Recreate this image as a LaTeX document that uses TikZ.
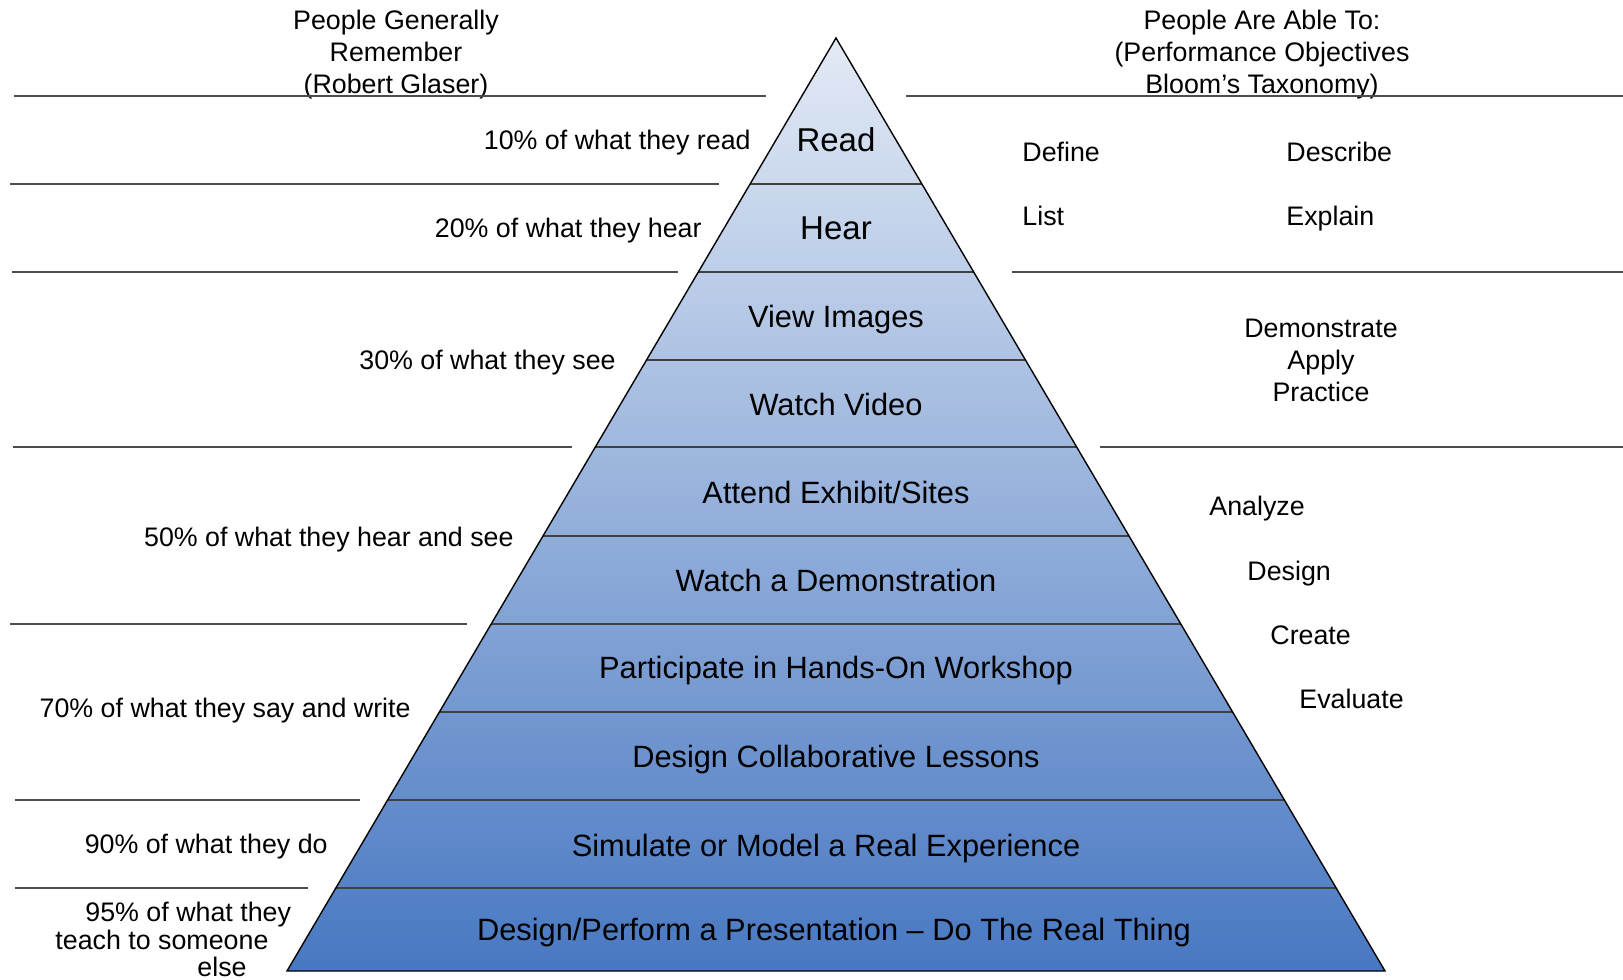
\documentclass[tikz,border=0pt]{standalone}
\usepackage{fontspec}
\setmainfont{Liberation Sans}
\definecolor{pyrtop}{HTML}{E3EAF5}
\definecolor{pyrbot}{HTML}{4878C2}
\begin{document}
\begin{tikzpicture}
    [
        x=0.5pt,
        y=-0.5pt,
        band/.style={
                inner sep=0pt,
                text height=11pt,
                text depth=0pt,
                font=\fontsize{15.4}{18}\selectfont,
            },
        side/.style={
                inner sep=0pt,
                text height=9.7pt,
                text depth=0pt,
                font=\fontsize{13.4}{16}\selectfont,
            },
        block/.style={
                inner sep=0pt,
                align=center,
                font=\fontsize{13.4}{16}\selectfont,
            },
        rule/.style={
                draw=black!70,
                line width=0.6pt,
            },
    ]
    \useasboundingbox (0,0) rectangle (1623,980);

    % the pyramid, shaded from light at the apex to blue at the base
    \coordinate (apex) at (836,38);
    \coordinate (bl) at (287,971);
    \coordinate (br) at (1385,971);
    \shade [top color=pyrtop, bottom color=pyrbot] (apex) -- (bl) -- (br) -- cycle;
    \foreach \y in {184,272,360,447,536,624,712,800,888}
        {
            \pgfmathsetmacro\dx{0.5884*(\y-38)}
            \draw [draw=black!75, line width=0.7pt] (836-\dx,\y) -- (836+\dx,\y);
        }
    \draw [line width=0.7pt, line join=miter] (apex) -- (bl) -- (br) -- cycle;

    % layers
    \node [band] (read)   at (836,140) {\fontsize{16.5}{18}\selectfont Read};
    \node [band] (hear)   at (836,228) {\fontsize{16.5}{18}\selectfont Hear};
    \node [band] (view)   at (836,316) {View Images};
    \node [band] (video)  at (836,404) {Watch Video};
    \node [band] (attend) at (836,492) {Attend Exhibit/Sites};
    \node [band] (demo)   at (836,580) {Watch a Demonstration};
    \node [band] (handson) at (836,667) {Participate in Hands-On Workshop};
    \node [band] (collab) at (836,756) {Design Collaborative Lessons};
    \node [band] (simul)  at (826,845) {Simulate or Model a Real Experience};
    \node [band] (perform) at (834,929) {Design/Perform a Presentation -- Do The Real Thing};

    % left column: what people remember
    \node [block] (remember) at (396,55) {People Generally\\Remember\\(Robert Glaser)};
    \draw [rule] (14,96) -- (766,96);
    \node [side, anchor=east] (pread) at (751,140) {10\% of what they read};
    \draw [rule] (10,184) -- (719,184);
    \node [side, anchor=east] (phear) at (702,228) {20\% of what they hear};
    \draw [rule] (12,272) -- (678,272);
    \node [side, anchor=east] (psee) at (616,360) {30\% of what they see};
    \draw [rule] (13,447) -- (572,447);
    \node [side, anchor=east] (pboth) at (514,537) {50\% of what they hear and see};
    \draw [rule] (10,624) -- (467,624);
    \node [side, anchor=east] (psay) at (411,708) {70\% of what they say and write};
    \draw [rule] (15,800) -- (360,800);
    \node [side, anchor=east] (pdo) at (328,844) {90\% of what they do};
    \draw [rule] (15,888) -- (308,888);
    \node [block, anchor=north west, align=left, font=\fontsize{13.4}{13.6}\selectfont]
        (pteach) at (55,902) {\hspace*{15pt}95\% of what they\\teach to someone\\\hspace*{71pt}else};

    % right column: performance objectives
    \node [block] (able) at (1262,55) {People Are Able To:\\(Performance Objectives\\Bloom’s Taxonomy)};
    \draw [rule] (906,96) -- (1623,96);
    \node [side, anchor=west] (define)   at (1022,152) {Define};
    \node [side, anchor=west] (describe) at (1286,152) {Describe};
    \node [side, anchor=west] (list)     at (1022,216) {List};
    \node [side, anchor=west] (explain)  at (1286,216) {Explain};
    \draw [rule] (1012,272) -- (1623,272);
    \node [block] (apply) at (1321,360) {Demonstrate\\Apply\\Practice};
    \draw [rule] (1100,447) -- (1623,447);
    \node [side, anchor=west] (analyze)  at (1209,506) {Analyze};
    \node [side, anchor=west] (design)   at (1247,571) {Design};
    \node [side, anchor=west] (create)   at (1270,635) {Create};
    \node [side, anchor=west] (evaluate) at (1299,699) {Evaluate};
\end{tikzpicture}
\end{document}
